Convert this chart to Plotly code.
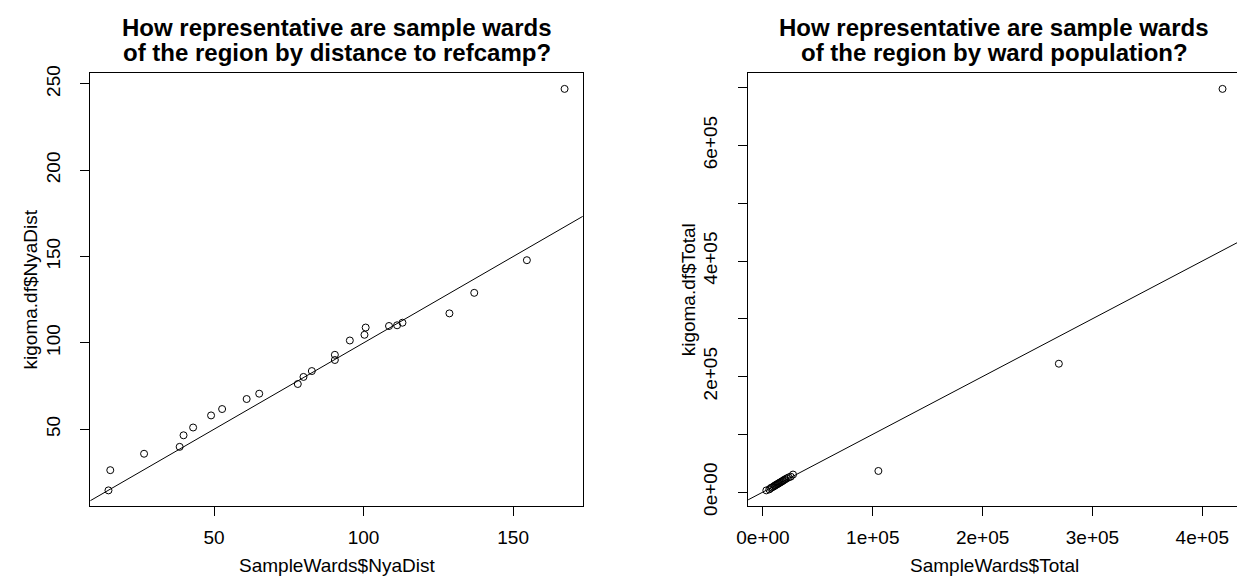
import plotly.graph_objects as go

W, H = 1237, 584

# Quantile pairs: sample wards (x) against all wards of the region (y)
sample_dist = [14.7, 15.3, 26.6, 38.5, 39.8, 43.0, 49.0, 52.7, 60.9, 65.1, 78.0, 79.9,
               82.7, 90.4, 90.4, 95.4, 100.3, 100.7, 108.5, 111.2, 113.0, 128.7, 137.0,
               154.6, 167.2]
region_dist = [14.6, 26.3, 35.8, 39.8, 46.5, 51.0, 58.0, 61.7, 67.5, 70.6, 76.2, 80.3,
               83.7, 90.1, 93.1, 101.4, 104.7, 108.9, 109.8, 110.2, 111.7, 117.1, 129.0,
               147.9, 247.1]

sample_total = [3100, 5800, 7000, 8200, 9500, 10500, 11200, 12000, 12800, 13500, 14300,
                15000, 15800, 16700, 17500, 18400, 19300, 20500, 21800, 23500, 25300,
                27400, 105100, 269400, 418400]
region_total = [2900, 4600, 6800, 8000, 9300, 10600, 11600, 12400, 13300, 14100, 15000,
                15900, 16800, 17700, 18700, 19800, 21000, 22300, 23800, 25500, 26600,
                30300, 36500, 222200, 698000]

dist_xticks = [50, 100, 150]
dist_yticks = [50, 100, 150, 200, 250]
total_xticks = [0, 100000, 200000, 300000, 400000]
total_xlabels = ["0e+00", "1e+05", "2e+05", "3e+05", "4e+05"]
total_yticks = [0, 100000, 200000, 300000, 400000, 500000, 600000, 700000]
total_ylabels = ["0e+00", "", "2e+05", "", "4e+05", "", "6e+05", ""]

titles = [
    ("How representative are sample wards", "of the region by distance to refcamp?"),
    ("How representative are sample wards", "of the region by ward population?"),
]
xlabels = ["SampleWards$NyaDist", "SampleWards$Total"]
ylabels = ["kigoma.df$NyaDist", "kigoma.df$Total"]

FONT = "Liberation Sans, Arial, Helvetica, sans-serif"
TICK_FONT = dict(family=FONT, size=19, color="black")


def extended(v, frac=0.04):
    lo, hi = min(v), max(v)
    d = (hi - lo) * frac
    return lo - d, hi + d


# plot regions in pixels (left, right, top, bottom)
TOP, BOTTOM = 67.7, 513.5
PANELS = [(79.0, 576.4), (743.3, 1240.8)]

fig = go.Figure()

xr1 = extended(sample_dist)
yr1 = extended(region_dist)
xr2 = extended(sample_total)
yr2 = extended(region_total)

# right panel runs past the page edge: trim its domain and range together
l2, r2 = PANELS[1]
cut = (W - l2) / (r2 - l2)
xr2_vis = (xr2[0], xr2[0] + (xr2[1] - xr2[0]) * cut)

ydom = [(H - BOTTOM) / H, (H - TOP) / H]

fig.add_trace(go.Scatter(
    x=sample_dist, y=region_dist, mode="markers", xaxis="x", yaxis="y",
    marker=dict(symbol="circle-open", size=7, color="black", line=dict(width=1)),
    showlegend=False, hoverinfo="x+y"))
fig.add_trace(go.Scatter(
    x=list(xr1), y=list(xr1), mode="lines", xaxis="x", yaxis="y",
    line=dict(color="black", width=1), showlegend=False, hoverinfo="skip"))

fig.add_trace(go.Scatter(
    x=sample_total, y=region_total, mode="markers", xaxis="x2", yaxis="y2",
    marker=dict(symbol="circle-open", size=7, color="black", line=dict(width=1)),
    showlegend=False, hoverinfo="x+y"))
fig.add_trace(go.Scatter(
    x=list(xr2), y=list(xr2), mode="lines", xaxis="x2", yaxis="y2",
    line=dict(color="black", width=1), showlegend=False, hoverinfo="skip"))

axis_common = dict(
    showgrid=False, zeroline=False, showline=True, linecolor="black", linewidth=1,
    ticks="outside", ticklen=9, tickwidth=1, tickcolor="black", tickfont=TICK_FONT,
)

fig.update_layout(
    width=W, height=H, autosize=False,
    margin=dict(l=0, r=0, t=0, b=0),
    paper_bgcolor="white", plot_bgcolor="white",
    xaxis=dict(axis_common, domain=[PANELS[0][0] / W, PANELS[0][1] / W], range=list(xr1),
               tickmode="array", tickvals=dist_xticks, mirror=True, anchor="y",
               ticklabelstandoff=5),
    yaxis=dict(axis_common, domain=ydom, range=list(yr1), tickmode="array",
               tickvals=dist_yticks, tickangle=-90, mirror=True, anchor="x",
               ticklabelstandoff=13),
    xaxis2=dict(axis_common, domain=[l2 / W, 1.0], range=list(xr2_vis),
                tickmode="array", tickvals=total_xticks, ticktext=total_xlabels,
                mirror=True, anchor="y2", ticklabelstandoff=5),
    yaxis2=dict(axis_common, domain=ydom, range=list(yr2), tickmode="array",
                tickvals=total_yticks, ticktext=total_ylabels, tickangle=-90,
                anchor="x2", ticklabelstandoff=13),
)

annotations = []
for i, (left, right) in enumerate(PANELS):
    cx = (left + right) / 2
    for line, py in zip(titles[i], (20.7, 46.7)):
        annotations.append(dict(
            text=f"<b>{line}</b>", x=cx / W, y=1 - py / H, xref="paper", yref="paper",
            xanchor="center", yanchor="middle", showarrow=False,
            font=dict(family=FONT, size=24, color="black")))
    annotations.append(dict(
        text=xlabels[i], x=cx / W, y=1 - 574 / H, xref="paper", yref="paper",
        xanchor="center", yanchor="middle", showarrow=False,
        font=dict(family=FONT, size=19, color="black")))
    annotations.append(dict(
        text=ylabels[i], x=(left - 60) / W, y=1 - (TOP + BOTTOM) / 2 / H,
        xref="paper", yref="paper", xanchor="center", yanchor="middle",
        textangle=-90, showarrow=False,
        font=dict(family=FONT, size=19, color="black")))
fig.update_layout(annotations=annotations)

# page without the browser's default spacing so the figure sits at (0, 0)
page_reset = (
    "document.documentElement.style.margin = '0';"
    "document.documentElement.style.padding = '0';"
    "document.documentElement.style.overflow = 'hidden';"
    "document.body.style.margin = '0';"
    "document.body.style.padding = '0';"
    "document.body.style.overflow = 'hidden';"
)
fig.write_html("out.html", post_script=page_reset)
